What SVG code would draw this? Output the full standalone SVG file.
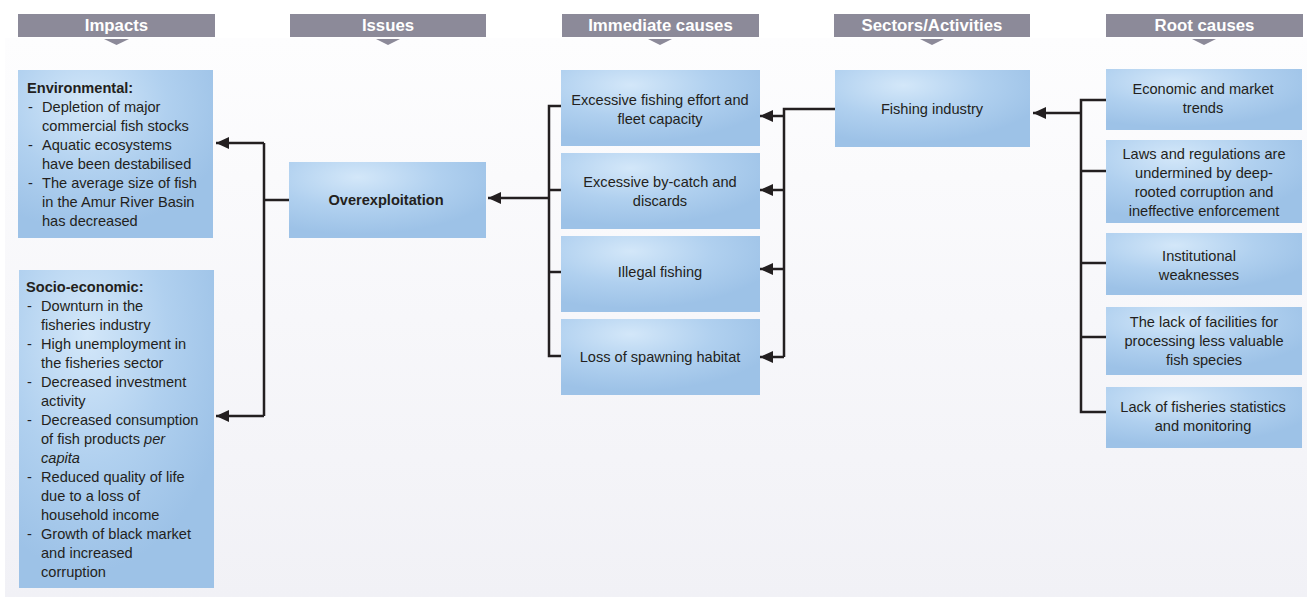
<svg xmlns="http://www.w3.org/2000/svg" width="1307" height="597" viewBox="0 0 1307 597">
<defs>
<linearGradient id="bg" x1="0" y1="0" x2="0" y2="1">
<stop offset="0" stop-color="#fdfdfe"/>
<stop offset="1" stop-color="#f1f1f6"/>
</linearGradient>
<radialGradient id="box" cx="0.35" cy="0.2" r="0.75">
<stop offset="0" stop-color="#d3e7f9"/>
<stop offset="0.55" stop-color="#b0d0ef"/>
<stop offset="1" stop-color="#9dc2e7"/>
</radialGradient>
<marker id="arr" markerWidth="14" markerHeight="12" refX="13" refY="6" orient="auto" markerUnits="userSpaceOnUse">
<path d="M0,0 L13,6 L0,12 Z" fill="#231f20"/>
</marker>
<style>
.hdr{fill:#8c8a99}
.tri{fill:#8c8a99}
.ht{font-family:"Liberation Sans",Arial,sans-serif;font-size:16.8px;font-weight:bold;fill:#ffffff;text-anchor:middle}
.bx{fill:url(#box)}
.t{font-family:"Liberation Sans",Arial,sans-serif;font-size:14.6px;fill:#231f20}
.c{text-anchor:middle}
.b{font-weight:bold}
.ln{fill:none;stroke:#231f20;stroke-width:2.5}
</style>
</defs>
<rect x="0" y="0" width="1307" height="597" fill="#ffffff"/>
<rect x="5" y="38" width="1302" height="559" fill="url(#bg)"/>

<g id="headers">
<g id="h-impacts"><rect class="hdr" x="18" y="14" width="197" height="23"/><path class="tri" d="M104,39 L129,39 L116.5,45 Z"/><text class="ht" x="116.5" y="31">Impacts</text></g>
<g id="h-issues"><rect class="hdr" x="290" y="14" width="196" height="23"/><path class="tri" d="M376,39 L400,39 L388,45 Z"/><text class="ht" x="388" y="31">Issues</text></g>
<g id="h-immediate"><rect class="hdr" x="562" y="14" width="197" height="23"/><path class="tri" d="M648,39 L672,39 L660,45 Z"/><text class="ht" x="660.5" y="31">Immediate causes</text></g>
<g id="h-sectors"><rect class="hdr" x="834" y="14" width="196" height="23"/><path class="tri" d="M920,39 L944,39 L932,45 Z"/><text class="ht" x="932" y="31">Sectors/Activities</text></g>
<g id="h-root"><rect class="hdr" x="1106" y="14" width="197" height="23"/><path class="tri" d="M1192,39 L1216,39 L1204,45 Z"/><text class="ht" x="1204.5" y="31">Root causes</text></g>
</g>

<g id="connectors">
<path class="ln" d="M289,200 H264"/>
<path class="ln" d="M264,416 V143"/>
<path class="ln" d="M264,143 H216" marker-end="url(#arr)"/>
<path class="ln" d="M264,416 H216" marker-end="url(#arr)"/>
<path class="ln" d="M561,106 H549 V356 H561"/>
<path class="ln" d="M549,190 H561"/>
<path class="ln" d="M549,272 H561"/>
<path class="ln" d="M549,198 H488" marker-end="url(#arr)"/>
<path class="ln" d="M835,109 H784 V357"/>
<path class="ln" d="M784,116 H760" marker-end="url(#arr)"/>
<path class="ln" d="M784,190 H760" marker-end="url(#arr)"/>
<path class="ln" d="M784,269 H760" marker-end="url(#arr)"/>
<path class="ln" d="M784,357 H760" marker-end="url(#arr)"/>
<path class="ln" d="M1106,100 H1081 V412 H1106"/>
<path class="ln" d="M1081,171 H1106"/>
<path class="ln" d="M1081,263 H1106"/>
<path class="ln" d="M1081,337 H1106"/>
<path class="ln" d="M1081,113 H1033" marker-end="url(#arr)"/>
</g>

<g id="n-env">
<rect class="bx" x="18" y="70" width="195" height="168"/>
<text class="t b" x="27" y="93">Environmental:</text>
<text class="t" x="28" y="112">-</text><text class="t" x="42" y="112">Depletion of major</text>
<text class="t" x="42" y="131">commercial fish stocks</text>
<text class="t" x="28" y="150">-</text><text class="t" x="42" y="150">Aquatic ecosystems</text>
<text class="t" x="42" y="169">have been destabilised</text>
<text class="t" x="28" y="188">-</text><text class="t" x="42" y="188">The average size of fish</text>
<text class="t" x="42" y="207">in the Amur River Basin</text>
<text class="t" x="42" y="226">has decreased</text>
</g>

<g id="n-socio">
<rect class="bx" x="19" y="270" width="195" height="318"/>
<text class="t b" x="26" y="292">Socio-economic:</text>
<text class="t" x="27" y="311">-</text><text class="t" x="41" y="311">Downturn in the</text>
<text class="t" x="41" y="330">fisheries industry</text>
<text class="t" x="27" y="349">-</text><text class="t" x="41" y="349">High unemployment in</text>
<text class="t" x="41" y="368">the fisheries sector</text>
<text class="t" x="27" y="387">-</text><text class="t" x="41" y="387">Decreased investment</text>
<text class="t" x="41" y="406">activity</text>
<text class="t" x="27" y="425">-</text><text class="t" x="41" y="425">Decreased consumption</text>
<text class="t" x="41" y="444">of fish products <tspan font-style="italic">per</tspan></text>
<text class="t" x="41" y="463" font-style="italic">capita</text>
<text class="t" x="27" y="482">-</text><text class="t" x="41" y="482">Reduced quality of life</text>
<text class="t" x="41" y="501">due to a loss of</text>
<text class="t" x="41" y="520">household income</text>
<text class="t" x="27" y="539">-</text><text class="t" x="41" y="539">Growth of black market</text>
<text class="t" x="41" y="558">and increased</text>
<text class="t" x="41" y="577">corruption</text>
</g>

<g id="n-over">
<rect class="bx" x="289" y="162" width="197" height="76"/>
<text class="t b c" x="386" y="205">Overexploitation</text>
</g>

<g id="n-ic1">
<rect class="bx" x="561" y="70" width="199" height="76"/>
<text class="t c" x="660" y="105">Excessive fishing effort and</text>
<text class="t c" x="660" y="124">fleet capacity</text>
</g>
<g id="n-ic2">
<rect class="bx" x="561" y="153" width="199" height="76"/>
<text class="t c" x="660" y="187">Excessive by-catch and</text>
<text class="t c" x="660" y="206">discards</text>
</g>
<g id="n-ic3">
<rect class="bx" x="561" y="236" width="199" height="76"/>
<text class="t c" x="660" y="277">Illegal fishing</text>
</g>
<g id="n-ic4">
<rect class="bx" x="561" y="319" width="199" height="76"/>
<text class="t c" x="660" y="362">Loss of spawning habitat</text>
</g>

<g id="n-fish">
<rect class="bx" x="835" y="70" width="195" height="77"/>
<text class="t c" x="932" y="114">Fishing industry</text>
</g>

<g id="n-rc1">
<rect class="bx" x="1106" y="69" width="196" height="61"/>
<text class="t c" x="1203" y="94">Economic and market</text>
<text class="t c" x="1203" y="113">trends</text>
</g>
<g id="n-rc2">
<rect class="bx" x="1106" y="140" width="196" height="83"/>
<text class="t c" x="1204" y="159">Laws and regulations are</text>
<text class="t c" x="1204" y="178">undermined by deep-</text>
<text class="t c" x="1204" y="197">rooted corruption and</text>
<text class="t c" x="1204" y="216">ineffective enforcement</text>
</g>
<g id="n-rc3">
<rect class="bx" x="1106" y="233" width="196" height="62"/>
<text class="t c" x="1199" y="261">Institutional</text>
<text class="t c" x="1199" y="280">weaknesses</text>
</g>
<g id="n-rc4">
<rect class="bx" x="1106" y="307" width="196" height="68"/>
<text class="t c" x="1204" y="327">The lack of facilities for</text>
<text class="t c" x="1204" y="346">processing less valuable</text>
<text class="t c" x="1204" y="365">fish species</text>
</g>
<g id="n-rc5">
<rect class="bx" x="1106" y="387" width="196" height="61"/>
<text class="t c" x="1203" y="412">Lack of fisheries statistics</text>
<text class="t c" x="1203" y="431">and monitoring</text>
</g>
</svg>
